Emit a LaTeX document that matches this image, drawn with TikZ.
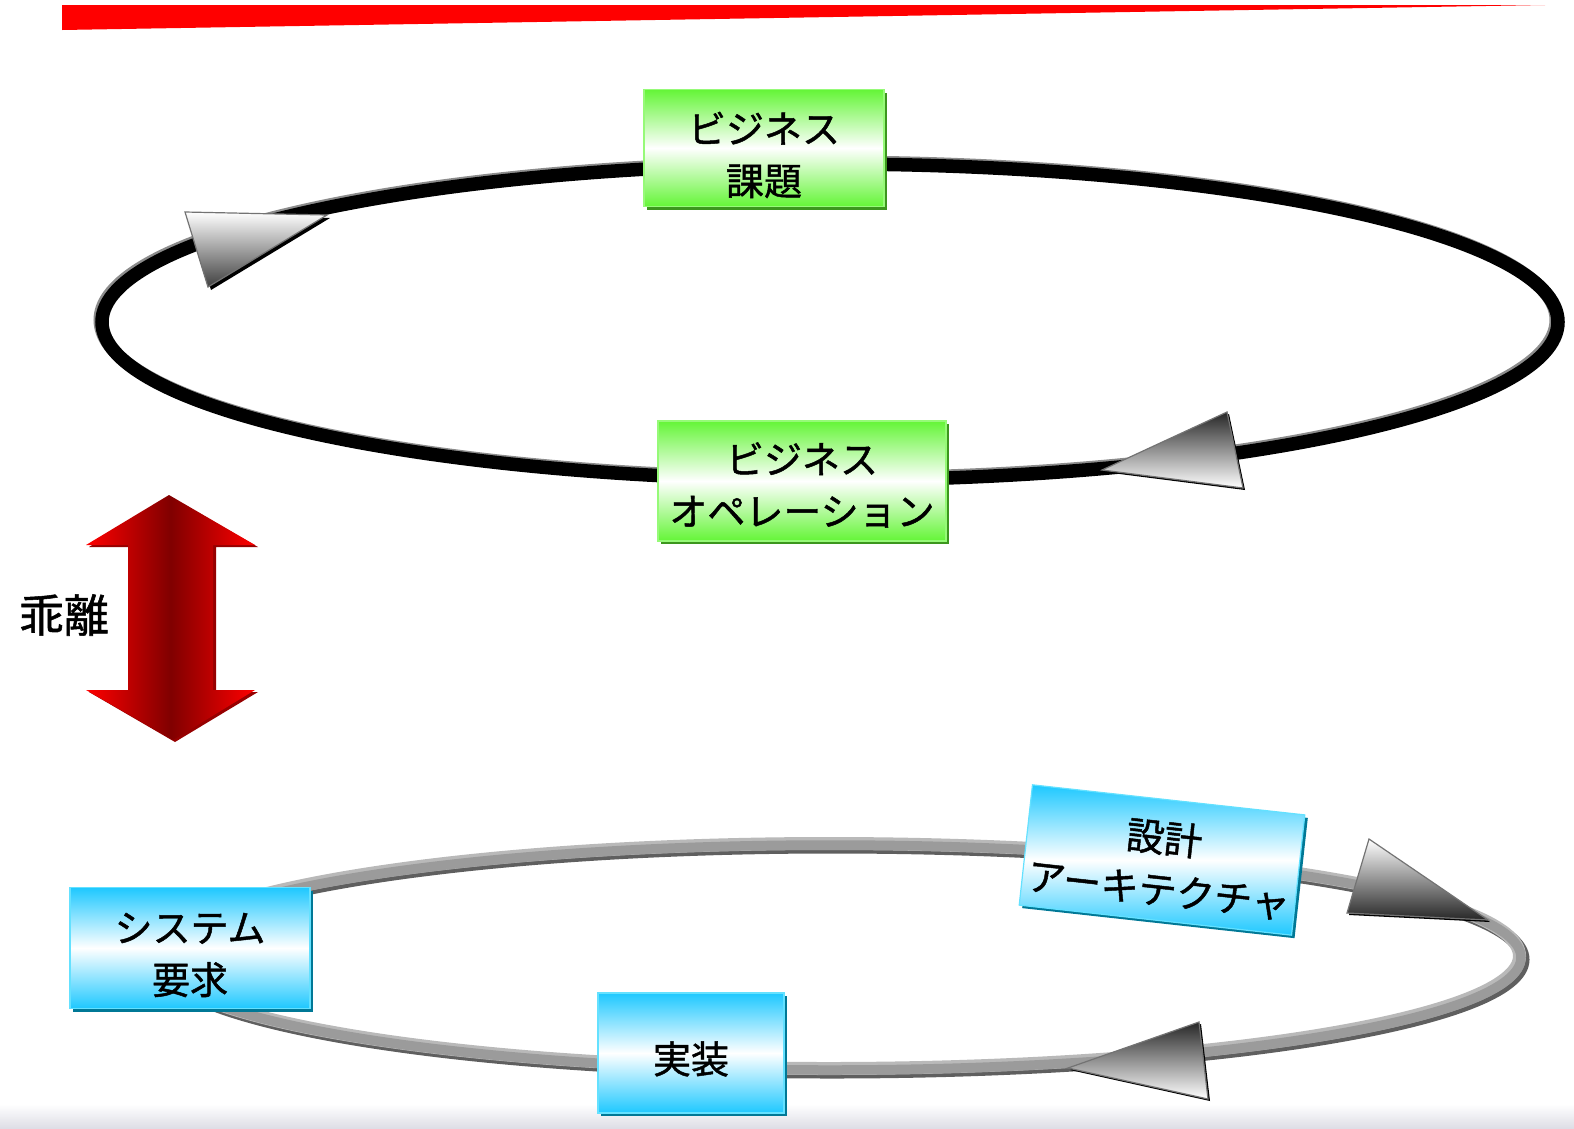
\documentclass[tikz,border=0pt]{standalone}
\usepackage{fontspec}
\newfontfamily\jp[FakeBold=1.2]{Noto Sans CJK JP}
\usetikzlibrary{shadows}
\definecolor{boxgreen}{RGB}{100,245,55}
\definecolor{greenedge}{RGB}{150,250,120}
\definecolor{greenshadow}{RGB}{60,150,30}
\definecolor{boxblue}{RGB}{30,200,255}
\definecolor{blueedge}{RGB}{100,225,255}
\definecolor{blueshadow}{RGB}{0,120,150}
\definecolor{darkred}{RGB}{128,0,0}
\definecolor{shadowred}{RGB}{150,0,0}
\definecolor{stripgray}{RGB}{222,222,230}
\definecolor{loopgray}{RGB}{155,155,155}
\definecolor{looplight}{RGB}{185,185,185}
\definecolor{loopdark}{RGB}{95,95,95}
\begin{document}
\begin{tikzpicture}[x=1pt,y=-1pt,
  jptext/.style={font=\fontsize{38}{52}\selectfont\jp, align=center, inner sep=0pt},
  greenbox/.style={inner sep=0pt, line width=1.2pt,
    draw=greenedge, top color=boxgreen, bottom color=boxgreen, middle color=white,
    drop shadow={shadow xshift=3pt, shadow yshift=-3pt, fill=greenshadow, opacity=1}},
  bluebox/.style={inner sep=0pt, line width=1.2pt,
    draw=blueedge, top color=boxblue, bottom color=boxblue, middle color=white,
    drop shadow={shadow xshift=3pt, shadow yshift=-3pt, fill=blueshadow, opacity=1}},
  headshade/.style={draw=black!55, line width=1.2pt, line join=miter},
  headback/.style={fill=black},
]
\useasboundingbox (0,0) rectangle (1574,1128);

% bottom strip
\fill[top color=white, bottom color=stripgray] (0,1104) rectangle (1574,1128);

% top red wedge
\fill[red] (62,5) -- (1545,5) -- (62,30) -- cycle;

% ---- business loop ----
\coordinate (bizc) at (830,322);
\draw[black!45, line width=13pt] ([shift={(-2,-2)}]bizc) ellipse [x radius=728, y radius=158];
\draw[black, line width=13.5pt] (bizc) ellipse [x radius=728, y radius=158];

\fill[headback] (188,215) -- (330,218) -- (211,290) -- cycle;
\draw[headshade, top color=white, bottom color=black!75] (185,212) -- (327,215) -- (208,287) -- cycle;
\fill[headback] (1104,472) -- (1229,414) -- (1245,490) -- cycle;
\draw[headshade, top color=black!85, bottom color=white] (1102,470) -- (1227,412) -- (1243,488) -- cycle;

\node[greenbox, minimum width=240pt, minimum height=117pt] (issue) at (764,148) {};
\node[jptext] (issuetext) at ([yshift=-7pt]issue.center) {ビジネス\\課題};
\node[greenbox, minimum width=288pt, minimum height=120pt] (ops) at (802,481) {};
\node[jptext] (opstext) at ([yshift=-4pt]ops.center) {ビジネス\\オペレーション};

% ---- system loop ----
\draw[loopdark, line width=13pt, shift={(2,2)}]
  (830,845) .. controls (1211.6,845) and (1521,895.4) .. (1521,957.5)
  .. controls (1521,1019.6) and (1211.6,1070) .. (830,1070)
  .. controls (457.2,1070) and (155,1019.6) .. (155,957.5)
  .. controls (155,895.4) and (457.2,845) .. (830,845) -- cycle;
\draw[looplight, line width=13pt, shift={(-1.5,-1.5)}]
  (830,845) .. controls (1211.6,845) and (1521,895.4) .. (1521,957.5)
  .. controls (1521,1019.6) and (1211.6,1070) .. (830,1070)
  .. controls (457.2,1070) and (155,1019.6) .. (155,957.5)
  .. controls (155,895.4) and (457.2,845) .. (830,845) -- cycle;
\draw[loopgray, line width=9.5pt]
  (830,845) .. controls (1211.6,845) and (1521,895.4) .. (1521,957.5)
  .. controls (1521,1019.6) and (1211.6,1070) .. (830,1070)
  .. controls (457.2,1070) and (155,1019.6) .. (155,957.5)
  .. controls (155,895.4) and (457.2,845) .. (830,845) -- cycle;

\fill[headback] (1371,841) -- (1490,922) -- (1349,915) -- cycle;
\draw[headshade, top color=white, bottom color=black!85] (1369,839) -- (1488,920) -- (1347,913) -- cycle;
\fill[headback] (1070,1070) -- (1201,1024) -- (1210,1101) -- cycle;
\draw[headshade, top color=black!85, bottom color=white] (1068,1068) -- (1199,1022) -- (1208,1099) -- cycle;

\node[bluebox, minimum width=240pt, minimum height=121pt] (req) at (190,948) {};
\node[jptext] (reqtext) at ([yshift=-7pt]req.center) {システム\\要求};
\node[bluebox, minimum width=186pt, minimum height=120pt] (impl) at (691,1053) {};
\node[jptext] (impltext) at ([yshift=-6pt]impl.center) {実装};
\node[bluebox, minimum width=274pt, minimum height=121pt, rotate=-6.3] (arch) at (1162,860) {};
\node[jptext, rotate=-6.3] (archtext) at ([shift={(-0.5pt,-4pt)}]arch.center) {設計\\アーキテクチャ};

% ---- gap arrow ----
\fill[shadowred] (171,497) -- (258,547) -- (216,547) -- (216,692) -- (258,692) -- (175,742) -- (89,692) -- (131,692) -- (131,547) -- (89,547) -- cycle;
\path[left color=red, right color=red, middle color=darkred]
  (169,495) -- (255,545) -- (213,545) -- (213,690) -- (255,690) -- (173,740) -- (86,690) -- (128,690) -- (128,545) -- (86,545) -- cycle;
\node[font=\fontsize{45}{50}\selectfont\jp, inner sep=0pt] (gap) at (64,615) {乖離};

\end{tikzpicture}
\end{document}
